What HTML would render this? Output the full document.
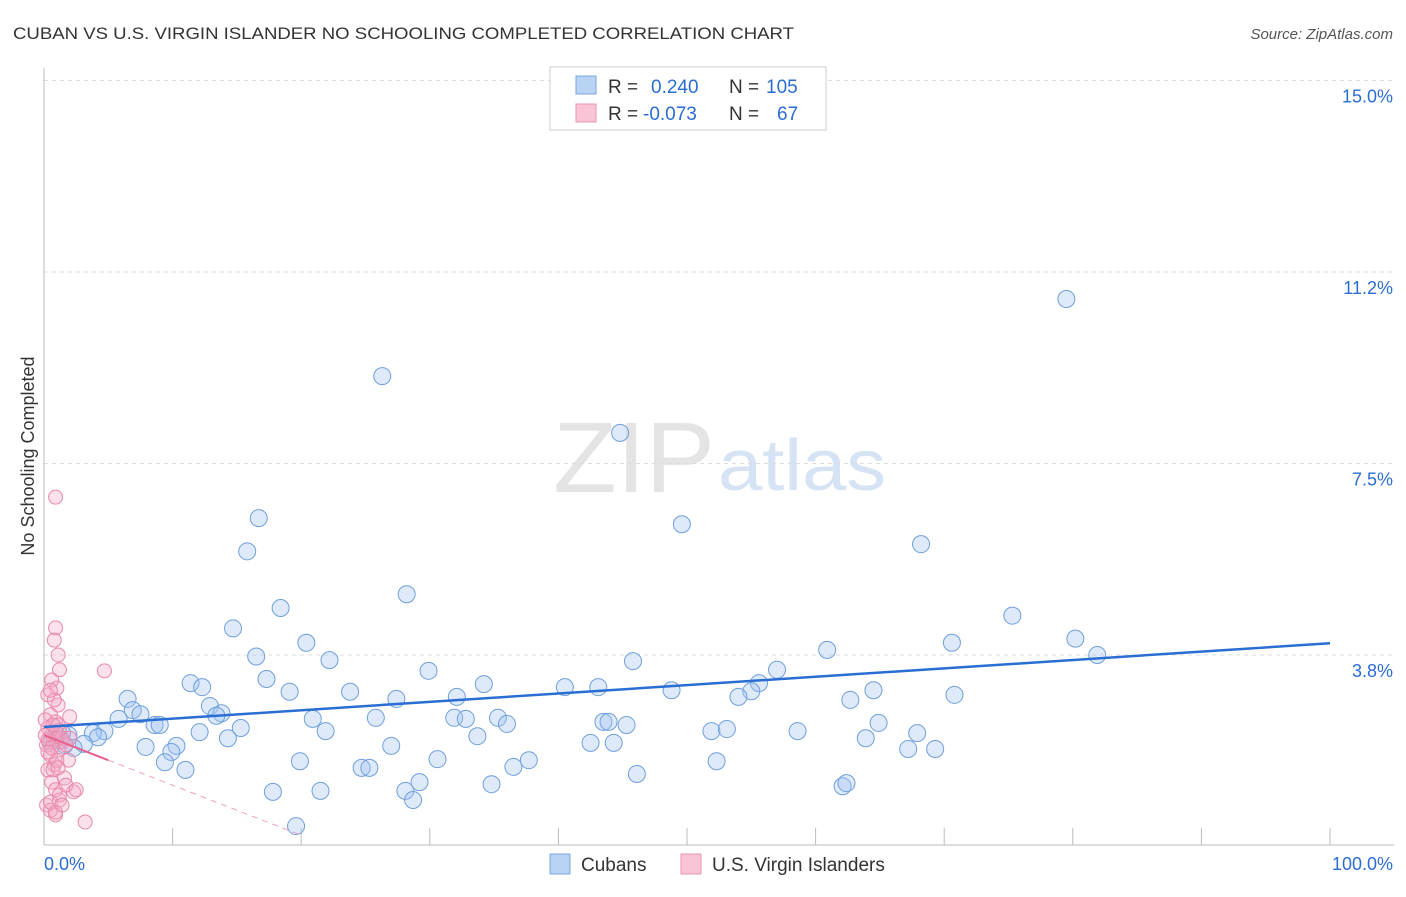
<!DOCTYPE html>
<html><head><meta charset="utf-8"><style>
body{margin:0;background:#fff;font-family:"Liberation Sans",sans-serif;}
svg text{font-family:"Liberation Sans",sans-serif;}
</style></head><body>
<svg id="chart" width="1406" height="892" xmlns="http://www.w3.org/2000/svg">
<text x="13" y="39" font-size="17" fill="#333" textLength="781" lengthAdjust="spacingAndGlyphs">CUBAN VS U.S. VIRGIN ISLANDER NO SCHOOLING COMPLETED CORRELATION CHART</text>
<text x="1393" y="39" font-size="15" fill="#555" font-style="italic" text-anchor="end">Source: ZipAtlas.com</text>
<text x="553" y="492" font-size="100" fill="#e4e4e4" font-family="Liberation Serif" textLength="162" lengthAdjust="spacingAndGlyphs">ZIP</text>
<text x="718" y="490" font-size="72" fill="#d6e3f4" textLength="168" lengthAdjust="spacingAndGlyphs">atlas</text>
<text transform="translate(34,456) rotate(-90)" font-size="18" fill="#333" text-anchor="middle">No Schooling Completed</text>
<g id="grid"></g><g id="axes"></g><g id="marks"></g>
<g>
<rect x="550" y="67" width="276" height="63" fill="#fff" stroke="#ccc"/>
<rect x="576" y="76" width="20" height="18" fill="#b9d3f4" stroke="#7aa6e0"/>
<rect x="576" y="104" width="20" height="18" fill="#f9c4d6" stroke="#ec95b4"/>
<text x="608" y="93" font-size="19" fill="#333">R = <tspan fill="#2a6dd3" x="651">0.240</tspan><tspan x="729" fill="#333">N = </tspan><tspan fill="#2a6dd3" x="766">105</tspan></text>
<text x="608" y="120" font-size="19" fill="#333">R = <tspan fill="#2a6dd3" x="643">-0.073</tspan><tspan x="729" fill="#333">N = </tspan><tspan fill="#2a6dd3" x="777">67</tspan></text>
</g>
<g>
<rect x="550" y="854" width="20" height="20" fill="#b9d3f4" stroke="#7aa6e0"/>
<text x="581" y="871" font-size="19" fill="#333">Cubans</text>
<rect x="681" y="854" width="20" height="20" fill="#f9c4d6" stroke="#ec95b4"/>
<text x="712" y="871" font-size="19" fill="#333">U.S. Virgin Islanders</text>
</g>
</svg>
<script>
const yTicks=[3.75,7.5,11.25,15];
const yTickLabels=["3.8%","7.5%","11.2%","15.0%"];
const xTickLabels=["0.0%","100.0%"];
const cubanX=[79.5,26.3,44.8,16.7,49.6,15.8,68.2,28.2,18.4,75.3,14.7,20.4,70.6,80.2,16.5,60.9,22.2,81.9,45.8,29.9,57.0,11.4,17.3,12.3,34.2,55.6,40.5,43.1,48.8,55.0,19.1,23.8,64.5,70.8,6.5,32.1,27.4,54.0,62.7,12.9,6.9,13.8,7.5,13.4,5.8,20.9,25.8,31.9,32.8,35.3,43.5,43.9,45.3,64.9,8.6,9.0,4.7,3.8,1.9,12.1,15.3,21.9,36.0,51.9,53.1,58.6,67.9,4.2,3.1,2.3,7.9,10.3,14.3,33.7,27.0,42.5,44.3,63.9,67.2,69.3,9.9,9.4,19.9,30.6,37.7,52.3,11.0,24.7,25.3,36.5,46.1,29.2,34.8,62.1,62.4,17.8,21.5,28.1,28.7,19.6,1.2,0.9,1.6,0.5,1.4];
const cubanY=[10.72,9.21,8.10,6.43,6.31,5.78,5.92,4.94,4.67,4.52,4.27,3.99,3.99,4.07,3.72,3.85,3.65,3.75,3.63,3.44,3.46,3.20,3.28,3.12,3.18,3.20,3.12,3.12,3.06,3.04,3.03,3.03,3.06,2.97,2.89,2.93,2.89,2.93,2.87,2.75,2.67,2.61,2.59,2.56,2.50,2.50,2.52,2.52,2.50,2.52,2.44,2.44,2.38,2.42,2.38,2.38,2.26,2.22,2.18,2.24,2.32,2.26,2.40,2.26,2.30,2.26,2.22,2.14,2.01,1.93,1.95,1.97,2.12,2.16,1.97,2.03,2.03,2.12,1.91,1.91,1.85,1.65,1.67,1.71,1.69,1.67,1.50,1.54,1.54,1.56,1.42,1.26,1.22,1.18,1.24,1.07,1.09,1.09,0.91,0.40,2.09,2.12,1.99,2.05,2.22];
const viX=[0.9,4.7,0.9,0.8,1.1,1.2,0.6,1.0,0.3,1.1,0.5,2.0,0.9,0.3,1.2,0.6,0.9,1.4,0.2,1.1,0.5,1.9,0.8,0.3,1.6,0.6,0.9,2.3,1.2,0.2,0.9,3.2,0.5,0.7,1.1,0.3,1.4,1.7,0.8,0.5,1.0,0.1,1.2,1.7,0.6,0.9,0.3,2.0,1.1,0.5,0.9,1.4,2.5,0.1,0.7];
const viY=[6.84,3.44,4.28,4.04,3.75,3.46,3.26,3.10,2.97,2.77,2.58,2.54,2.44,2.32,2.28,2.18,2.09,2.05,1.99,1.89,1.79,1.69,1.60,1.50,1.34,1.26,1.11,1.07,0.91,0.81,0.62,0.48,0.71,1.50,2.38,2.09,2.12,1.99,2.87,3.06,1.69,2.48,1.01,1.20,1.93,2.24,1.85,2.12,1.54,0.87,0.67,0.81,1.11,2.18,2.38];
const cubanTrend=[2.34,3.98];
const viTrend=[2.18,-0.098];
const NS="http://www.w3.org/2000/svg";
const X=v=>44+v*12.86;
const Y=v=>846.5-v*51.07;
function mk(t,a,p){const e=document.createElementNS(NS,t);for(const k in a)e.setAttribute(k,a[k]);p.appendChild(e);return e;}
const grid=document.getElementById('grid'),axes=document.getElementById('axes'),marks=document.getElementById('marks');
yTicks.forEach((t,i)=>{
 const l=mk('line',{x1:44,x2:1394,y1:Y(t),y2:Y(t),stroke:'#ddd','stroke-dasharray':'4,4'},grid);
 
 
 const tx=mk('text',{x:1393,y:Y(t)+22,'font-size':18,fill:'#2a6dd3','text-anchor':'end'},axes);
 tx.textContent=yTickLabels[i];
 
 
});
mk('line',{x1:44,x2:44,y1:68,y2:845,stroke:'#bbb'},axes);
mk('line',{x1:44,x2:1394,y1:845,y2:845,stroke:'#bbb'},axes);
for(let i=1;i<=10;i++){const t=mk('line',{x1:X(i*10),x2:X(i*10),y1:828,y2:845,stroke:'#bbb'},axes);
 
 }
const xl0=mk('text',{x:44,y:870,'font-size':18,fill:'#2a6dd3'},axes);xl0.textContent=xTickLabels[0];


const xl1=mk('text',{x:1393,y:870,'font-size':18,fill:'#2a6dd3','text-anchor':'end'},axes);xl1.textContent=xTickLabels[1];


cubanX.forEach((x,i)=>{const c=mk('circle',{cx:X(x),cy:Y(cubanY[i]),r:8.5,fill:'rgba(160,196,240,0.35)',stroke:'#6f9fdc','stroke-width':1},marks);
 
 });
viX.forEach((x,i)=>{const c=mk('circle',{cx:X(x),cy:Y(viY[i]),r:7,fill:'rgba(244,170,200,0.35)',stroke:'#e889aa','stroke-width':1},marks);
 
 });
const bt=mk('line',{x1:X(0),y1:Y(cubanTrend[0]),x2:X(100),y2:Y(cubanTrend[1]),stroke:'#2a6dd3','stroke-width':2.5},marks);


const pf=x=>viTrend[0]+viTrend[1]*x;
const pt=mk('line',{x1:X(0),y1:Y(pf(0)),x2:X(5),y2:Y(pf(5)),stroke:'#e8608c','stroke-width':2},marks);


const pd=mk('line',{x1:X(5),y1:Y(pf(5)),x2:X(20),y2:Y(pf(20)),stroke:'#eea0ba','stroke-width':1,'stroke-dasharray':'6,5'},marks);


</script>
</body></html>
